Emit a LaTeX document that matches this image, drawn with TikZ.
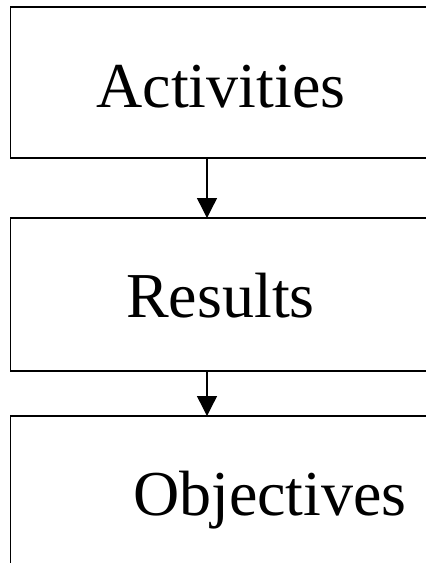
\documentclass[tikz,border=0pt]{standalone}
\usepackage{fontspec}
\setmainfont{Liberation Serif}
\usetikzlibrary{arrows.meta}
\begin{document}
\begin{tikzpicture}[x=1pt,y=-1pt,
  boxnode/.style={draw, line width=1.4pt, minimum width=430pt, inner sep=0pt, outer sep=0pt, anchor=north west},
  lbl/.style={anchor=base, inner sep=0pt, font=\fontsize{64}{70}\selectfont},
  conn/.style={line width=1.4pt, -{Triangle[length=20pt,width=20pt]}}]
\useasboundingbox (0,0) rectangle (426,563);
\clip (0,0) rectangle (426,563);
\node[boxnode, minimum height=151pt] (b1) at (10.5,7) {};
\node[boxnode, minimum height=153pt] (b2) at (10.5,218) {};
\node[boxnode, minimum height=190pt] (b3) at (10.5,416) {};
\node[lbl] (t1) at (221,107) {Activities};
\node[lbl] (t2) at (220.5,317) {Results};
\node[lbl] (t3) at (270,515) {Objectives};
\coordinate (ax) at (207,0);
\draw[conn] (b1.south -| ax) -- (b2.north -| ax);
\draw[conn] (b2.south -| ax) -- (b3.north -| ax);
\end{tikzpicture}
\end{document}
